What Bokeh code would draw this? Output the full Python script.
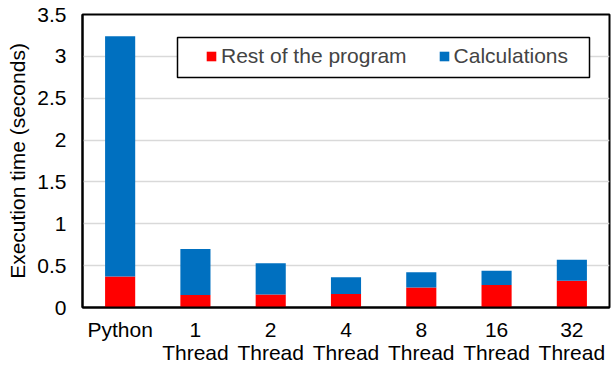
from bokeh.plotting import figure
from bokeh.models import ColumnDataSource, FactorRange, Range1d, BoxAnnotation
from bokeh.embed import file_html
from bokeh.resources import INLINE

categories = ["Python", "1\nThread", "2\nThread", "4\nThread", "8\nThread", "16\nThread", "32\nThread"]
rest = [0.37, 0.15, 0.155, 0.16, 0.24, 0.27, 0.32]
calc = [2.87, 0.55, 0.375, 0.20, 0.18, 0.17, 0.25]
series = ["Rest of the program", "Calculations"]
colors = ["#FF0000", "#0070C0"]
y_ticks = [0, 0.5, 1, 1.5, 2, 2.5, 3, 3.5]

source = ColumnDataSource(data=dict(cat=categories, rest=rest, calc=calc))

FONT = "Liberation Sans"
FS = "21px"

p = figure(x_range=FactorRange(factors=categories), y_range=Range1d(0, 3.5),
           width=615, height=368, output_backend="svg", toolbar_location=None,
           min_border_left=82, min_border_right=6, min_border_top=14, min_border_bottom=61)

# legend frame
box = BoxAnnotation(left=177, right=589, top=37, bottom=77,
                    left_units="canvas", right_units="canvas",
                    top_units="canvas", bottom_units="canvas",
                    fill_color="white", fill_alpha=1,
                    line_color="black", line_alpha=1, line_width=1.5, level="overlay")
p.add_layout(box)

p.vbar_stack(["rest", "calc"], x="cat", width=0.4, color=colors, source=source,
             legend_label=series, line_color=None)

p.outline_line_color = "black"
p.outline_line_width = 2
p.background_fill_color = "white"

p.xgrid.grid_line_color = None
p.ygrid.grid_line_color = "#d9d9d9"
p.ygrid.grid_line_width = 1.5
p.yaxis.ticker = y_ticks

for ax in (p.xaxis, p.yaxis):
    ax.axis_line_color = "black"
    ax.axis_line_width = 2
    ax.major_tick_line_color = None
    ax.minor_tick_line_color = None
    ax.major_tick_out = 0
    ax.major_tick_in = 0
    ax.major_label_text_font = FONT
    ax.major_label_text_font_size = FS
    ax.major_label_text_color = "black"

p.xaxis.major_label_text_line_height = 1.0
p.yaxis.major_label_standoff = 16
p.xaxis.major_label_standoff = 10
p.yaxis.axis_label = "Execution time (seconds)"
p.yaxis.axis_label_text_font = FONT
p.yaxis.axis_label_text_font_size = FS
p.yaxis.axis_label_text_font_style = "normal"
p.yaxis.axis_label_text_color = "black"
p.yaxis.axis_label_standoff = 5

lg = p.legend[0]
lg.orientation = "horizontal"
lg.location = (123, 239)
lg.border_line_color = None
lg.background_fill_alpha = 0
lg.label_text_font = FONT
lg.label_text_font_size = FS
lg.glyph_width = 12
lg.glyph_height = 12
lg.label_standoff = 4
lg.spacing = 31
lg.padding = 8
lg.margin = 0

open("out.html", "w").write(file_html(p, INLINE))
